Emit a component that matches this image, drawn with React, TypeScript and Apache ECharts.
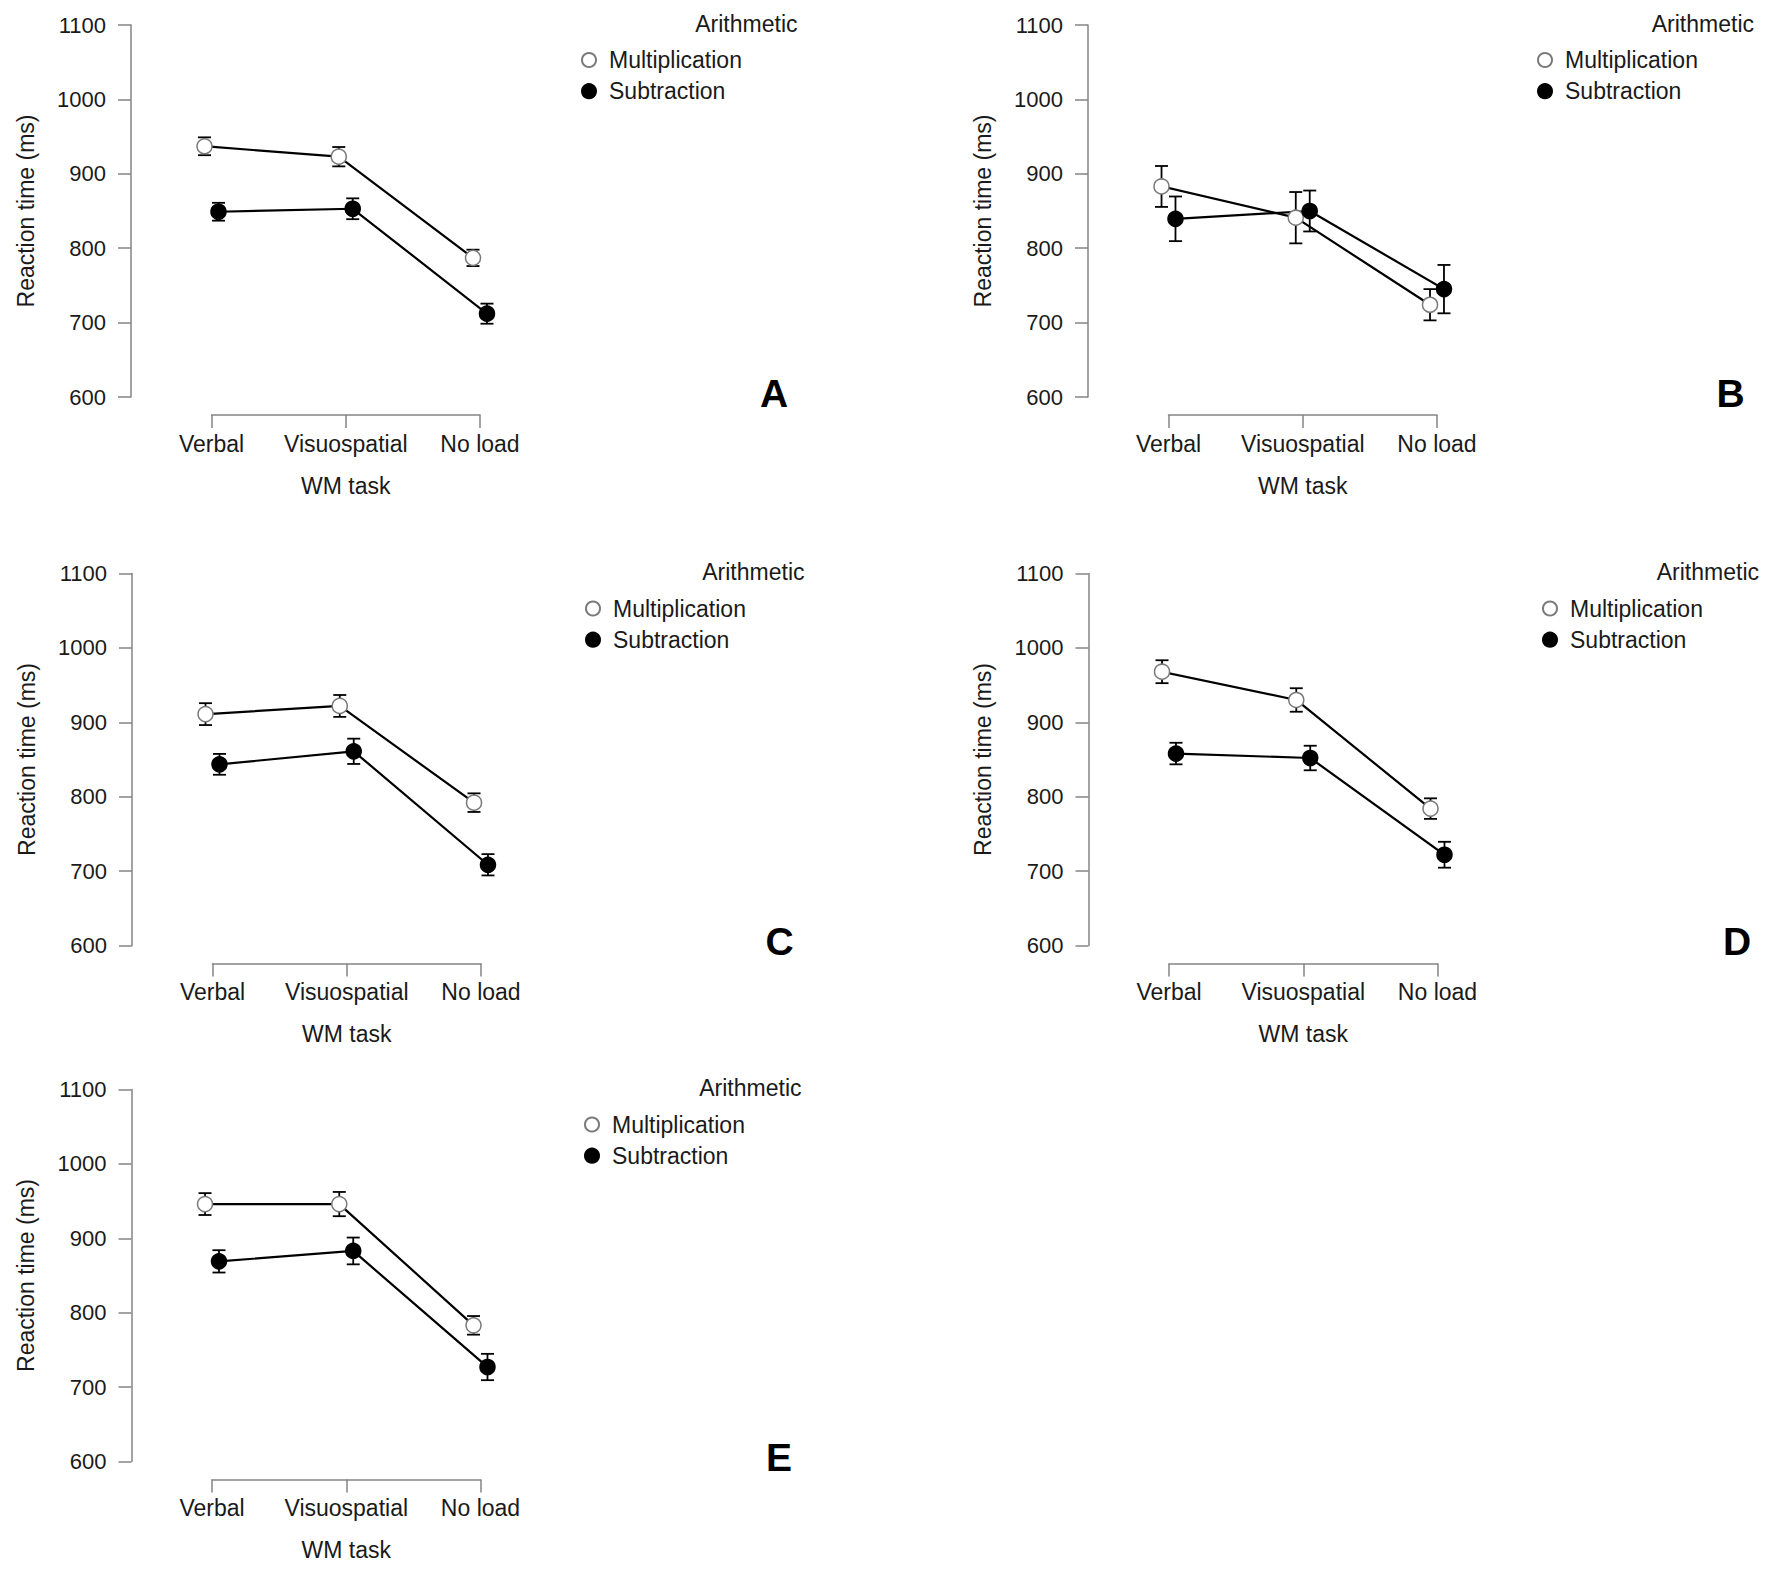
import React, { useEffect, useRef } from "react";
import * as echarts from "echarts";

// ---------- data ----------
const CATEGORIES = ["Verbal", "Visuospatial", "No load"];
const SERIES_NAMES = ["Multiplication", "Subtraction"];
const PANEL_LETTERS = ["A", "B", "C", "D", "E"];
const Y_TICKS = [600, 700, 800, 900, 1000, 1100];

// Panel A
const multA = [937, 923, 787];
const multSeA = [12, 13, 11];
const subA = [849, 853, 712];
const subSeA = [12, 14, 13.5];
// Panel B
const multB = [883, 841, 724];
const multSeB = [27.5, 34.5, 21];
const subB = [839.5, 850, 745];
const subSeB = [30, 27.5, 32.5];
// Panel C
const multC = [911, 922, 792];
const multSeC = [14.7, 14.7, 12.5];
const subC = [843.5, 861, 708.5];
const subSeC = [14, 17, 14.3];
// Panel D
const multD = [968, 930, 784];
const multSeD = [15.4, 15.8, 13.8];
const subD = [858, 852, 722];
const subSeD = [14.5, 16.5, 17.4];
// Panel E
const multE = [946, 946, 783];
const multSeE = [14.7, 16.3, 12.5];
const subE = [869, 883, 727];
const subSeE = [15, 18, 17.7];

const MULT_MEANS = [multA, multB, multC, multD, multE];
const MULT_SE = [multSeA, multSeB, multSeC, multSeD, multSeE];
const SUB_MEANS = [subA, subB, subC, subD, subE];
const SUB_SE = [subSeA, subSeB, subSeC, subSeD, subSeE];

// ---------- layout / style ----------
const LAYOUT = [
  { axisX: 131, top: 25, legendX: 465, arithX: 666.5, labelX: 643 },
  { axisX: 1088, top: 25, legendX: 464, arithX: 666, labelX: 642.5 },
  { axisX: 132, top: 573.5, legendX: 468, arithX: 672.5, labelX: 647.5 },
  { axisX: 1088.5, top: 573.5, legendX: 468.5, arithX: 670.5, labelX: 648.5 },
  { axisX: 131.5, top: 1089.5, legendX: 467.5, arithX: 670, labelX: 647.5 },
];
const Y_AXIS_GAP = 80.5;
const GRID_W = 268.5;
const GRID_H = 372;
const DODGE = 0.052; // horizontal offset of the two groups, in category units
const FONT = "Liberation Sans, Arial, Helvetica, sans-serif";
const TEXT = "#1a1a1a";
const AXIS = "#858585";
const OPEN_BORDER = "#7a7a7a";

function buildOption() {
  const grid: any[] = [];
  const xAxis: any[] = [];
  const yAxis: any[] = [];
  const lineSeries: any[] = [];
  const barSeries: any[] = [];
  const legend: any[] = [];
  const graphic: any[] = [];

  LAYOUT.forEach((L, p) => {
    grid.push({
      left: L.axisX + Y_AXIS_GAP,
      top: L.top,
      width: GRID_W,
      height: GRID_H,
      containLabel: false,
    });
    xAxis.push({
      type: "category",
      gridIndex: p,
      data: CATEGORIES,
      boundaryGap: false,
      position: "bottom",
      offset: 18,
      axisLine: { show: true, onZero: false, lineStyle: { color: AXIS, width: 1.5 } },
      axisTick: { show: true, length: 13, lineStyle: { color: AXIS, width: 1.5 } },
      axisLabel: { interval: 0, fontSize: 23, color: TEXT, margin: 17, fontFamily: FONT },
      splitLine: { show: false },
      name: "WM task",
      nameLocation: "middle",
      nameGap: 59,
      nameTextStyle: { fontSize: 23, color: TEXT, fontFamily: FONT },
    });
    xAxis.push({
      type: "value",
      gridIndex: p,
      min: 0,
      max: CATEGORIES.length - 1,
      show: false,
      axisLine: { onZero: false },
      splitLine: { show: false },
    });
    yAxis.push({
      type: "value",
      gridIndex: p,
      min: Y_TICKS[0],
      max: Y_TICKS[Y_TICKS.length - 1],
      interval: 100,
      position: "left",
      offset: Y_AXIS_GAP,
      axisLine: { show: true, onZero: false, lineStyle: { color: AXIS, width: 1.5 } },
      axisTick: { show: true, length: 13, lineStyle: { color: AXIS, width: 1.5 } },
      axisLabel: {
        fontSize: 22,
        color: TEXT,
        margin: 25,
        fontFamily: FONT,
        formatter: (v: number) => String(v),
      },
      splitLine: { show: false },
      name: "Reaction time (ms)",
      nameLocation: "middle",
      nameRotate: 90,
      nameGap: 94,
      nameTextStyle: { fontSize: 23, color: TEXT, fontFamily: FONT },
    });

    const groups = [
      { name: SERIES_NAMES[0], means: MULT_MEANS[p], se: MULT_SE[p], dx: -DODGE, fill: "#ffffff", border: OPEN_BORDER },
      { name: SERIES_NAMES[1], means: SUB_MEANS[p], se: SUB_SE[p], dx: DODGE, fill: "#000000", border: "#000000" },
    ];
    groups.forEach((g) => {
      lineSeries.push({
        type: "line",
        name: g.name,
        xAxisIndex: 2 * p + 1,
        yAxisIndex: p,
        data: g.means.map((v, i) => [i + g.dx, v]),
        clip: false,
        symbol: "circle",
        symbolSize: 15,
        showSymbol: true,
        showAllSymbol: true,
        lineStyle: { color: "#000", width: 2.2 },
        itemStyle: { color: g.fill, borderColor: g.border, borderWidth: 1.5 },
        z: 3,
        silent: true,
      });
      barSeries.push({
        type: "custom",
        name: g.name,
        xAxisIndex: 2 * p + 1,
        yAxisIndex: p,
        data: g.means.map((v, i) => [i + g.dx, v - g.se[i], v + g.se[i]]),
        encode: { x: 0, y: [1, 2] },
        clip: false,
        z: 2,
        silent: true,
        renderItem: (params: any, api: any) => {
          const x = api.value(0);
          const lo = api.coord([x, api.value(1)]);
          const hi = api.coord([x, api.value(2)]);
          const hw = 6.5;
          const st = { stroke: "#000", lineWidth: 1.8 };
          return {
            type: "group",
            children: [
              { type: "line", shape: { x1: hi[0], y1: hi[1], x2: lo[0], y2: lo[1] }, style: st },
              { type: "line", shape: { x1: hi[0] - hw, y1: hi[1], x2: hi[0] + hw, y2: hi[1] }, style: st },
              { type: "line", shape: { x1: lo[0] - hw, y1: lo[1], x2: lo[0] + hw, y2: lo[1] }, style: st },
            ],
          };
        },
      });
    });

    legend.push({
      orient: "vertical",
      left: L.axisX + L.legendX - 15,
      top: L.top + 23.5,
      padding: 0,
      itemWidth: 30,
      itemHeight: 14,
      itemGap: 8.2,
      selectedMode: false,
      textStyle: { fontSize: 23, color: TEXT, fontFamily: FONT },
      data: SERIES_NAMES.map((n) => ({ name: n, icon: "circle" })),
    });

    graphic.push({
      type: "text",
      x: L.axisX + L.arithX,
      y: L.top - 1.5,
      silent: true,
      style: {
        text: "Arithmetic",
        fontSize: 23,
        fontFamily: FONT,
        fill: TEXT,
        align: "right",
        verticalAlign: "middle",
      },
    });
    graphic.push({
      type: "text",
      x: L.axisX + L.labelX,
      y: L.top + 368,
      silent: true,
      style: {
        text: PANEL_LETTERS[p],
        fontSize: 39,
        fontWeight: "bold",
        fontFamily: FONT,
        fill: "#000",
        align: "center",
        verticalAlign: "middle",
      },
    });
  });

  return {
    animation: false,
    backgroundColor: "#ffffff",
    textStyle: { fontFamily: FONT },
    grid,
    xAxis,
    yAxis,
    legend,
    graphic,
    series: [...lineSeries, ...barSeries],
  };
}

export default function App() {
  const ref = useRef<HTMLDivElement>(null);
  useEffect(() => {
    const chart = echarts.init(ref.current as HTMLDivElement, null, { renderer: "svg" });
    chart.setOption(buildOption() as any);
    return () => chart.dispose();
  }, []);
  return (
    <div
      ref={ref}
      style={{ position: "absolute", left: 0, top: 0, width: 1772, height: 1570, background: "#fff" }}
    />
  );
}
